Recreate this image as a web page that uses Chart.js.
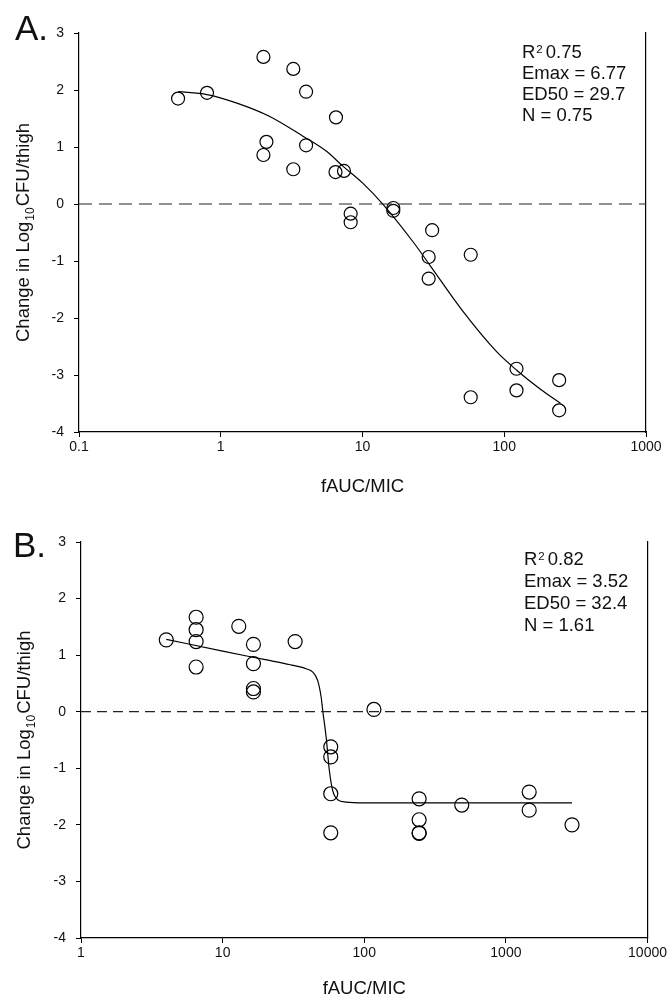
<!DOCTYPE html>
<html lang="en">
<head>
<meta charset="UTF-8">
<title>fAUC/MIC vs Change in Log10 CFU/thigh</title>
<script src="https://cdn.jsdelivr.net/npm/chart.js"></script>
<style>
  body { margin: 0; background: #fff; }
  .panel { position: absolute; left: 0; width: 669px; height: 500px; }
</style>
</head>
<body>
<div class="panel" style="top:0"><canvas id="chartA"></canvas></div>
<div class="panel" style="top:500px"><canvas id="chartB"></canvas></div>

<script>
// ---- Panel A: observed points ----
const doseA = [0.5, 0.8, 2, 2, 2.1, 3.25, 3.25, 4, 4, 6.5, 6.45, 7.4, 8.25, 8.25, 16.5, 16.5, 31, 29.3, 29.3, 58, 58, 122, 122, 244, 244];
const killA = [1.85, 1.95, 2.58, 0.86, 1.09, 2.37, 0.61, 1.97, 1.03, 1.52, 0.56, 0.58, -0.17, -0.32, -0.07, -0.12, -0.46, -0.93, -1.31, -0.89, -3.39, -2.89, -3.27, -3.09, -3.62];
// Panel A: fitted curve
const fitDoseA = [0.5, 0.8, 1.3, 2.2, 3.8, 5.6, 7.3, 10, 14, 23, 30, 51, 89, 123, 180, 250];
const fitKillA = [1.97, 1.92, 1.77, 1.54, 1.19, 0.92, 0.66, 0.37, -0.01, -0.68, -1.08, -1.88, -2.6, -2.92, -3.25, -3.5];
const xTicksA = [0.1, 1, 10, 100, 1000];
const statsA = ['0.75', 'Emax = 6.77', 'ED50 = 29.7', 'N = 0.75'];

// ---- Panel B: observed points ----
const doseB = [4, 6.5, 6.5, 6.5, 6.5, 13, 16.5, 16.5, 16.5, 16.5, 32.5, 117, 58, 58, 58, 58, 244, 244, 244, 244, 488, 1460, 1460, 2930];
const killB = [1.27, 1.67, 1.45, 1.24, 0.79, 1.51, 1.19, 0.85, 0.41, 0.35, 1.24, 0.04, -0.62, -0.8, -1.45, -2.14, -1.54, -1.91, -2.14, -2.15, -1.65, -1.42, -1.74, -2.0];
// Panel B: fitted curve
const fitDoseB = [4, 10, 20, 30, 38.8, 43.3, 46.9, 49.6, 50.9, 53.8, 56.7, 59.8, 64.9, 74.3, 100, 2930];
const fitKillB = [1.28, 1.07, 0.92, 0.83, 0.76, 0.7, 0.55, 0.26, 0.02, -0.45, -1.04, -1.39, -1.555, -1.597, -1.61, -1.61];
const xTicksB = [1, 10, 100, 1000, 10000];
const statsB = ['0.82', 'Emax = 3.52', 'ED50 = 32.4', 'N = 1.61'];

const yTicks = [-4, -3, -2, -1, 0, 1, 2, 3];
const FONT = '"Liberation Sans", Arial, sans-serif';
const INK = '#111';

Chart.defaults.font.family = FONT;
Chart.defaults.color = INK;

// panel letter, y-axis title with subscript, and fit statistics
const panelText = {
  id: 'panelText',
  afterDraw(chart, args, o) {
    const ctx = chart.ctx;
    const area = chart.chartArea;
    ctx.save();
    ctx.fillStyle = INK;
    ctx.textBaseline = 'alphabetic';
    ctx.textAlign = 'left';

    ctx.font = '35px ' + FONT;
    ctx.fillText(o.letter, o.letterX, o.letterY);

    // rotated y title: Change in Log10CFU/thigh
    ctx.save();
    ctx.translate(o.titleX, (area.top + area.bottom) / 2);
    ctx.rotate(-Math.PI / 2);
    const parts = [['Change in Log', 18.5, 0, 0], ['10', 12, 5, 1], ['CFU/thigh', 18.5, 0, 1]];
    let total = 0;
    parts.forEach(p => { ctx.font = p[1] + 'px ' + FONT; total += ctx.measureText(p[0]).width + p[3]; });
    let tx = -total / 2;
    parts.forEach(p => {
      ctx.font = p[1] + 'px ' + FONT;
      tx += p[3];
      ctx.fillText(p[0], tx, p[2]);
      tx += ctx.measureText(p[0]).width;
    });
    ctx.restore();

    // statistics block
    const s = o.stats;
    let y = o.statsY;
    ctx.font = '18.5px ' + FONT;
    ctx.fillText('R', o.statsX, y);
    let x = o.statsX + ctx.measureText('R').width + 1;
    ctx.font = '11.5px ' + FONT;
    ctx.fillText('2', x, y - 5);
    x += ctx.measureText('2').width + 3;
    ctx.font = '18.5px ' + FONT;
    ctx.fillText(s[0], x, y);
    for (let i = 1; i < s.length; i++) {
      y += o.statsGap;
      ctx.fillText(s[i], o.statsX, y);
    }
    ctx.restore();
  }
};

function makeChart(id, cfg) {
  const points = cfg.dose.map((d, i) => ({ x: d, y: cfg.kill[i] }));
  const fit = cfg.fitDose.map((d, i) => ({ x: d, y: cfg.fitKill[i] }));
  const zero = [{ x: cfg.xTicks[0], y: 0 }, { x: cfg.xTicks[cfg.xTicks.length - 1], y: 0 }];

  return new Chart(document.getElementById(id), {
    type: 'scatter',
    data: {
      datasets: [
        {
          data: zero, showLine: true, pointRadius: 0,
          borderColor: '#222', borderWidth: 1.2, borderDash: cfg.dash
        },
        {
          data: fit, showLine: true, pointRadius: 0,
          borderColor: '#000', borderWidth: 1.2,
          cubicInterpolationMode: 'monotone'
        },
        {
          data: points, pointRadius: cfg.radius, pointStyle: 'circle',
          pointBorderWidth: 1.2, pointBorderColor: '#000',
          pointBackgroundColor: 'rgba(0,0,0,0)'
        }
      ]
    },
    options: {
      responsive: true,
      maintainAspectRatio: false,
      animation: false,
      layout: { padding: { top: cfg.top, right: cfg.right, left: 0, bottom: 0 } },
      plugins: {
        legend: { display: false },
        tooltip: { enabled: false },
        panelText: cfg.text
      },
      scales: {
        x: {
          type: 'logarithmic',
          min: cfg.xTicks[0],
          max: cfg.xTicks[cfg.xTicks.length - 1],
          afterBuildTicks: s => { s.ticks = cfg.xTicks.map(v => ({ value: v })); },
          afterFit: s => { s.height = cfg.xHeight; },
          ticks: {
            autoSkip: false, maxRotation: 0, padding: 2,
            font: { size: 14 }, color: INK,
            callback: v => String(v)
          },
          grid: { display: true, drawOnChartArea: false, drawTicks: true, tickLength: 5, color: '#000' },
          border: { display: true, color: '#000', width: 1.2 },
          title: {
            display: true, text: 'fAUC/MIC', color: INK,
            font: { size: 18.5 }, padding: { top: 0, bottom: cfg.titlePad }
          }
        },
        y: {
          type: 'linear',
          position: 'left',
          min: -4, max: 3,
          afterBuildTicks: s => { s.ticks = yTicks.map(v => ({ value: v })); },
          afterFit: s => { s.width = cfg.yWidth; },
          ticks: { padding: 10, font: { size: 14 }, color: INK, callback: v => String(v) },
          grid: { display: true, drawOnChartArea: false, drawTicks: true, tickLength: 5, color: '#000' },
          border: { display: true, color: '#000', width: 1.2 }
        },
        yr: {
          type: 'linear',
          position: 'right',
          min: -4, max: 3,
          afterFit: s => { s.width = 0; },
          ticks: { display: false },
          grid: { display: true, drawOnChartArea: false, drawTicks: false, tickLength: 0 },
          border: { display: true, color: '#000', width: 1.2 }
        }
      }
    },
    plugins: [panelText]
  });
}

makeChart('chartA', {
  dose: doseA, kill: killA, fitDose: fitDoseA, fitKill: fitKillA, xTicks: xTicksA,
  dash: [13, 7], radius: 6.5,
  top: 33, right: 23, yWidth: 79, xHeight: 68, titlePad: 2,
  text: { letter: 'A.', letterX: 15, letterY: 40, titleX: 28.5,
          stats: statsA, statsX: 522, statsY: 58, statsGap: 21 }
});

makeChart('chartB', {
  dose: doseB, kill: killB, fitDose: fitDoseB, fitKill: fitKillB, xTicks: xTicksB,
  dash: [10, 6], radius: 7,
  top: 42, right: 21, yWidth: 81, xHeight: 62, titlePad: 0,
  text: { letter: 'B.', letterX: 13, letterY: 57, titleX: 30,
          stats: statsB, statsX: 524, statsY: 65, statsGap: 22 }
});
</script>
</body>
</html>
